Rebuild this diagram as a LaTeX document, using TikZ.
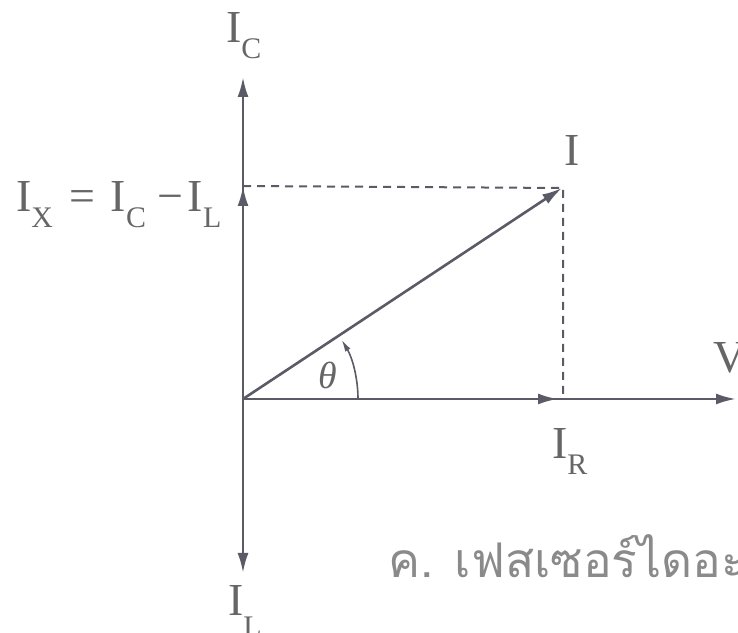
\documentclass[tikz,border=0pt]{standalone}
\usepackage{fontspec}
\setmainfont{Liberation Serif}
\newfontfamily\thaifont[Script=Thai]{Loma}
\usetikzlibrary{arrows.meta}
\definecolor{ln}{HTML}{5A5B66}
\definecolor{tx}{HTML}{666666}
\definecolor{th}{HTML}{8A8A8A}
\newcommand{\lsub}[1]{\raisebox{-0.33em}{\fontsize{30}{30}\selectfont #1}}
\begin{document}
\begin{tikzpicture}[x=1bp,y=1bp,
  axis/.style={line width=2.6bp, draw=ln, -{Latex[length=20bp,width=11bp]}},
  guide/.style={line width=2bp, draw=ln, dash pattern=on 8bp off 6bp},
  lbl/.style={text=tx, inner sep=0pt, font=\fontsize{46}{46}\selectfont},
]
\useasboundingbox (0,0) rectangle (738,633);
\clip (0,0) rectangle (738,633);
\coordinate (O) at (243,234);
\coordinate (Ctop) at (243,556);
\coordinate (Lbot) at (243,60);
\coordinate (Vend) at (736,234);
\coordinate (Iend) at (562,445);
\coordinate (IRend) at (558,234);
\coordinate (IXend) at (243,447);
\coordinate (Corner) at (563,445);
\coordinate (Foot) at (563,234);
% dashed guides
\draw[guide] (IXend) -- (Corner) -- (Foot);
% axes
\draw[axis] (O) -- (Ctop);
\draw[axis] (O) -- (Lbot);
\draw[axis] (O) -- (Vend);
% phasors
\draw[axis] (O) -- (IXend);
\draw[axis] (O) -- (IRend);
\draw[axis] (O) -- (Iend);
% angle arc
\draw[line width=1.6bp, draw=ln, -{Latex[length=12bp,width=6bp]}] (358,234) arc[start angle=0, end angle=31, radius=115];
% labels
\node[lbl, anchor=base west] (lIC) at (226,590) {I\lsub{C}};
\node[lbl, anchor=base west] (lIX) at (16,421) {I\lsub{X}\hspace{16bp}=\hspace{16bp}I\lsub{C}\hspace{11bp}−\hspace{5bp}I\lsub{L}};
\node[lbl, anchor=base west] (lI) at (564,467) {I};
\node[lbl, anchor=base west] (lV) at (713,260) {V};
\node[lbl, anchor=base west] (lIR) at (552,174) {I\lsub{R}};
\node[lbl, anchor=base west] (lIL) at (228,17) {I\raisebox{-0.45em}{\fontsize{30}{30}\selectfont L}};
\node[text=tx, inner sep=0pt, font=\fontsize{38}{38}\selectfont\itshape] (lth) at (328,258) {θ};
\node[text=th, inner sep=0pt, anchor=base west, font=\thaifont\fontsize{48}{48}\selectfont] (cap) at (388,55) {ค. เฟสเซอร์ไดอะ};
\end{tikzpicture}
\end{document}
